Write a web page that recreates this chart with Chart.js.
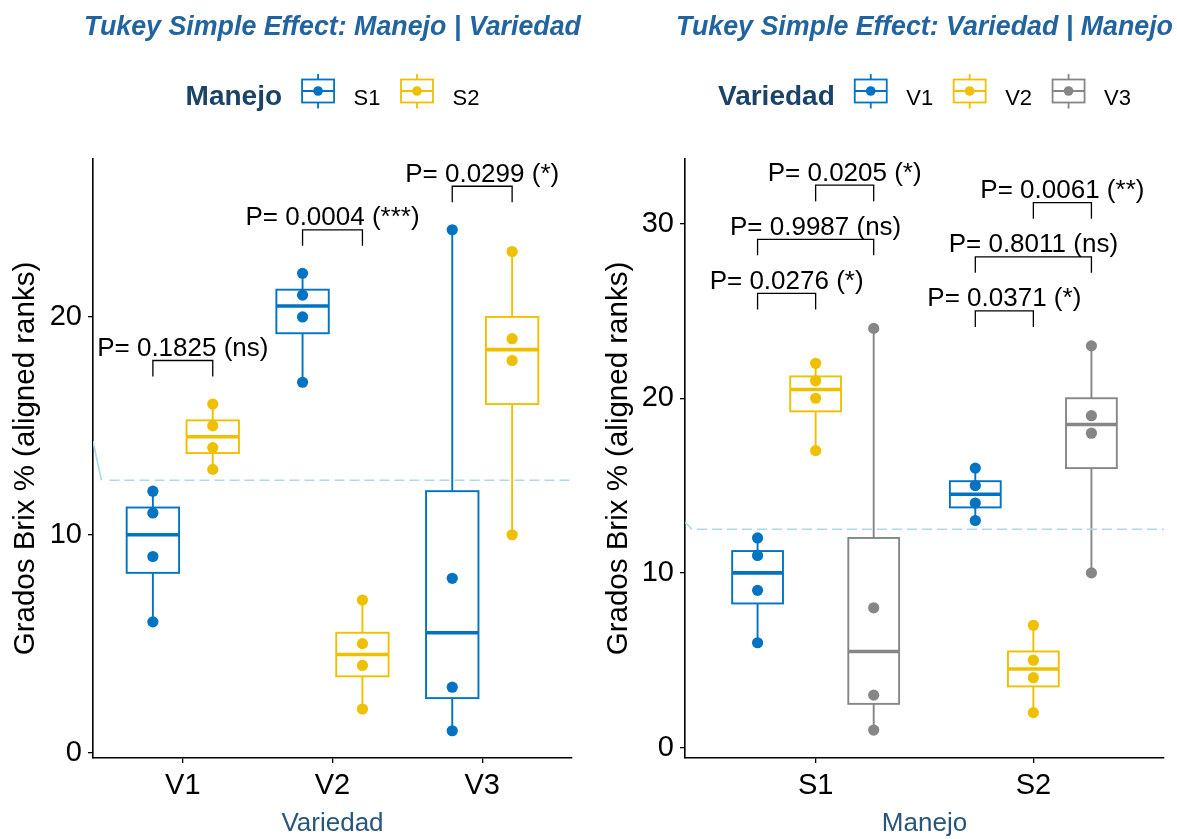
<!DOCTYPE html>
<html>
<head>
<meta charset="utf-8">
<script src="https://cdn.jsdelivr.net/npm/chart.js@4.4.1/dist/chart.umd.min.js"></script>
<style>
html,body{margin:0;padding:0;background:#ffffff;}
#wrap{position:relative;width:1177px;height:839px;overflow:hidden;background:#fff;}
#c1{position:absolute;left:0;top:0;}
#c2{position:absolute;left:590px;top:0;}
</style>
</head>
<body>
<div id="wrap">
<canvas id="c1" width="590" height="839"></canvas>
<canvas id="c2" width="587" height="839"></canvas>
</div>
<script>
// ---------------- DATA ----------------
const variedades = ['V1', 'V2', 'V3'];
const manejos = ['S1', 'S2'];
// aligned ranks per Manejo x Variedad cell
const S1_V1 = [6, 9, 11, 12];
const S1_V2 = [17, 20, 21, 22];
const S1_V3 = [1, 3, 8, 24];
const S2_V1 = [13, 14, 15, 16];
const S2_V2 = [2, 4, 5, 7];
const S2_V3 = [10, 18, 19, 23];
const meanRank = 12.5;
const yTicksLeft = [0, 10, 20];
const yTicksRight = [0, 10, 20, 30];
// Tukey simple effects: Manejo | Variedad (S1 vs S2 in each variedad)
const pManejoByVariedad = [0.1825, 0.0004, 0.0299];
const sigManejoByVariedad = ['ns', '***', '*'];
// Tukey simple effects: Variedad | Manejo
const pairsVariedad = [['V1', 'V2'], ['V1', 'V3'], ['V2', 'V3']];
const pVariedadS1 = [0.0276, 0.9987, 0.0205];
const sigVariedadS1 = ['*', 'ns', '*'];
const pVariedadS2 = [0.0371, 0.8011, 0.0061];
const sigVariedadS2 = ['*', 'ns', '**'];
// small lead-in piece of the reference line at the panel's left edge
const leadLeftX = [0.4, 0.456];
const leadLeftY = [14.3, 12.5];
const leadRightX = [0.4, 0.432];
const leadRightY = [12.9, 12.5];

// ---------------- STYLE ----------------
const FONT = '"Liberation Sans", Arial, Helvetica, sans-serif';
const colManejo = { S1: '#0073C2', S2: '#EFC000' };
const colVariedad = { V1: '#0073C2', V2: '#EFC000', V3: '#868686' };
const TITLE_COL = '#22649F';
const LEGEND_TITLE_COL = '#1B4368';
const AXIS_TITLE_COL = '#27557C';
const REF_COL = '#ADD8E6';

const cells = {
  S1: { V1: S1_V1, V2: S1_V2, V3: S1_V3 },
  S2: { V1: S2_V1, V2: S2_V2, V3: S2_V3 }
};

function quantile7(sorted, p) {
  const h = (sorted.length - 1) * p;
  const lo = Math.floor(h);
  const hi = Math.min(lo + 1, sorted.length - 1);
  return sorted[lo] + (h - lo) * (sorted[hi] - sorted[lo]);
}

function dodge(i, n) { return (i - (n - 1) / 2) * (0.8 / n); }

// groups for left panel: x = Variedad, dodge by Manejo
const leftGroups = [];
variedades.forEach((v, vi) => manejos.forEach((m, mi) => {
  leftGroups.push({ x: vi + 1 + dodge(mi, manejos.length), values: cells[m][v], color: colManejo[m] });
}));
// groups for right panel: x = Manejo, dodge by Variedad
const rightGroups = [];
manejos.forEach((m, mi) => variedades.forEach((v, vi) => {
  rightGroups.push({ x: mi + 1 + dodge(vi, variedades.length), values: cells[m][v], color: colVariedad[v] });
}));

const fmtP = (p, s) => 'P= ' + p.toFixed(4) + ' (' + s + ')';

// brackets
const BR_OFFSET = 2, BR_STEP = 3.1;
const leftBrackets = variedades.map((v, vi) => {
  const mx = Math.max(...manejos.map(m => Math.max(...cells[m][v])));
  return { x1: vi + 1 + dodge(0, 2), x2: vi + 1 + dodge(1, 2), y: mx + BR_OFFSET,
           label: fmtP(pManejoByVariedad[vi], sigManejoByVariedad[vi]) };
});
const rightBrackets = [];
manejos.forEach((m, mi) => {
  const mx = Math.max(...variedades.map(v => Math.max(...cells[m][v])));
  const ps = mi === 0 ? pVariedadS1 : pVariedadS2;
  const ss = mi === 0 ? sigVariedadS1 : sigVariedadS2;
  pairsVariedad.forEach((pr, k) => {
    const a = variedades.indexOf(pr[0]), b = variedades.indexOf(pr[1]);
    rightBrackets.push({ x1: mi + 1 + dodge(a, 3), x2: mi + 1 + dodge(b, 3),
      y: mx + BR_OFFSET + k * BR_STEP, label: fmtP(ps[k], ss[k]) });
  });
});

// ---------------- PLUGINS ----------------
const boxPlugin = {
  id: 'boxes',
  beforeDatasetsDraw(chart, args, o) {
    const { ctx } = chart; const xs = chart.scales.x, ys = chart.scales.y;
    ctx.save();
    for (const g of o.groups) {
      const s = [...g.values].sort((a, b) => a - b);
      const q1 = quantile7(s, 0.25), med = quantile7(s, 0.5), q3 = quantile7(s, 0.75);
      const iqr = q3 - q1;
      const lo = Math.min(...s.filter(v => v >= q1 - 1.5 * iqr));
      const hi = Math.max(...s.filter(v => v <= q3 + 1.5 * iqr));
      const xc = xs.getPixelForValue(g.x);
      const xl = xs.getPixelForValue(g.x - o.width / 2);
      const xr = xs.getPixelForValue(g.x + o.width / 2);
      const Y = v => ys.getPixelForValue(v);
      ctx.strokeStyle = g.color; ctx.lineWidth = 1.9; ctx.lineCap = 'butt';
      ctx.beginPath();
      ctx.moveTo(xc, Y(hi)); ctx.lineTo(xc, Y(q3));
      ctx.moveTo(xc, Y(q1)); ctx.lineTo(xc, Y(lo));
      ctx.stroke();
      ctx.fillStyle = '#ffffff';
      ctx.fillRect(xl, Y(q3), xr - xl, Y(q1) - Y(q3));
      ctx.strokeRect(xl, Y(q3), xr - xl, Y(q1) - Y(q3));
      ctx.lineWidth = 3.6;
      ctx.beginPath(); ctx.moveTo(xl, Y(med)); ctx.lineTo(xr, Y(med)); ctx.stroke();
    }
    ctx.restore();
  }
};

const bracketPlugin = {
  id: 'brackets',
  afterDatasetsDraw(chart, args, o) {
    const { ctx } = chart; const xs = chart.scales.x, ys = chart.scales.y;
    ctx.save();
    ctx.strokeStyle = '#000'; ctx.lineWidth = 1.3; ctx.fillStyle = '#000';
    ctx.font = '26px ' + FONT; ctx.textAlign = 'center'; ctx.textBaseline = 'alphabetic';
    for (const b of o.items) {
      const x1 = xs.getPixelForValue(b.x1), x2 = xs.getPixelForValue(b.x2), y = ys.getPixelForValue(b.y);
      ctx.beginPath();
      ctx.moveTo(x1, y + o.tip); ctx.lineTo(x1, y); ctx.lineTo(x2, y); ctx.lineTo(x2, y + o.tip);
      ctx.stroke();
      ctx.fillText(b.label, (x1 + x2) / 2, y - 4.5);
    }
    ctx.restore();
  }
};

// panel title + legend (centred over the plotting panel, like ggplot)
const headerPlugin = {
  id: 'header',
  afterDraw(chart, args, o) {
    const { ctx, chartArea } = chart;
    const cx = (chartArea.left + chartArea.right) / 2;
    ctx.save();
    // title
    ctx.font = 'italic bold 26.8px ' + FONT;
    ctx.fillStyle = TITLE_COL; ctx.textAlign = 'center'; ctx.textBaseline = 'alphabetic';
    ctx.fillText(o.title, cx, 35);
    // legend
    const titleFont = 'bold 28px ' + FONT, labFont = '22px ' + FONT;
    ctx.font = titleFont; const tw = ctx.measureText(o.legendTitle).width;
    ctx.font = labFont; const lws = o.labels.map(l => ctx.measureText(l).width);
    const keyW = 32, keyH = 23, gTK = 20, gKL = 19.5, gLK = 20.5;
    const total = tw + gTK + o.labels.length * (keyW + gKL) + lws.reduce((a, b) => a + b, 0) + (o.labels.length - 1) * gLK;
    let x = cx - total / 2;
    const cy = 91, base = 105;
    ctx.textAlign = 'left';
    ctx.font = titleFont; ctx.fillStyle = LEGEND_TITLE_COL;
    ctx.fillText(o.legendTitle, x, base);
    x += tw + gTK;
    o.labels.forEach((l, i) => {
      const c = o.colors[i];
      ctx.strokeStyle = c; ctx.lineWidth = 1.8;
      ctx.beginPath();
      ctx.moveTo(x + keyW / 2, cy - keyH / 2 - 5.5); ctx.lineTo(x + keyW / 2, cy - keyH / 2);
      ctx.moveTo(x + keyW / 2, cy + keyH / 2); ctx.lineTo(x + keyW / 2, cy + keyH / 2 + 6);
      ctx.moveTo(x, cy); ctx.lineTo(x + keyW, cy);
      ctx.stroke();
      ctx.strokeRect(x, cy - keyH / 2, keyW, keyH);
      ctx.fillStyle = c; ctx.beginPath(); ctx.arc(x + keyW / 2, cy, 4.8, 0, Math.PI * 2); ctx.fill();
      x += keyW + gKL;
      ctx.font = labFont; ctx.fillStyle = '#000';
      ctx.fillText(l, x, base);
      x += lws[i] + gLK;
    });
    ctx.restore();
  }
};

// ---------------- CHART BUILDER ----------------
function buildChart(canvasId, cfg) {
  const datasets = [];
  cfg.groups.forEach(g => {
    datasets.push({ type: 'scatter', data: g.values.map(v => ({ x: g.x, y: v })),
      backgroundColor: g.color, borderColor: g.color, borderWidth: 0, pointRadius: 5.6,
      pointHoverRadius: 5.6, order: 0 });
  });
  datasets.push({ type: 'line', data: [{ x: cfg.refStart, y: meanRank }, { x: cfg.xMax, y: meanRank }],
    borderColor: REF_COL, borderWidth: 1.6, borderDash: [10, 5], pointRadius: 0, fill: false, order: 1 });
  datasets.push({ type: 'line', data: cfg.leadX.map((x, i) => ({ x, y: cfg.leadY[i] })),
    borderColor: REF_COL, borderWidth: 1.6, pointRadius: 0, fill: false, order: 1 });

  return new Chart(document.getElementById(canvasId), {
    type: 'scatter',
    data: { datasets },
    options: {
      responsive: false, animation: false, devicePixelRatio: 1,
      layout: { padding: { left: 0, right: cfg.padRight, top: 159, bottom: 0 } },
      plugins: {
        legend: { display: false },
        tooltip: { enabled: false },
        title: { display: false },
        boxes: { groups: cfg.groups, width: cfg.boxWidth },
        brackets: { items: cfg.brackets, tip: 16 },
        header: { title: cfg.title, legendTitle: cfg.legendTitle, labels: cfg.legendLabels, colors: cfg.legendColors }
      },
      scales: {
        x: {
          type: 'linear', min: 0.4, max: cfg.xMax,
          afterBuildTicks: s => { s.ticks = cfg.xCats.map((c, i) => ({ value: i + 1 })); },
          afterFit: s => { s.height = 81; },
          ticks: { callback: v => cfg.xCats[Math.round(v) - 1], color: '#000',
                   font: { family: FONT, size: 29 }, padding: 6, maxRotation: 0, autoSkip: false },
          grid: { display: true, drawOnChartArea: false, drawTicks: true, tickLength: 5, color: '#000', lineWidth: 1.3 },
          border: { display: true, color: '#000', width: 1.6 },
          title: { display: true, text: cfg.xTitle, color: AXIS_TITLE_COL,
                   font: { family: FONT, size: 26 }, padding: { top: 0, bottom: 0 } }
        },
        y: {
          type: 'linear', min: cfg.yMin, max: cfg.yMax,
          afterBuildTicks: s => { s.ticks = cfg.yTicks.map(v => ({ value: v })); },
          afterFit: s => { s.width = cfg.yWidth; },
          ticks: { callback: v => String(v), color: '#000', font: { family: FONT, size: 29 }, padding: 6 },
          grid: { display: true, drawOnChartArea: false, drawTicks: true, tickLength: 5, color: '#000', lineWidth: 1.3 },
          border: { display: true, color: '#000', width: 1.6 },
          title: { display: true, text: 'Grados Brix % (aligned ranks)', color: '#000',
                   font: { family: FONT, size: 29.5 }, padding: { top: cfg.yTitlePad, bottom: 0 } }
        }
      }
    },
    plugins: [boxPlugin, bracketPlugin, headerPlugin]
  });
}

buildChart('c1', {
  title: 'Tukey Simple Effect: Manejo | Variedad',
  groups: leftGroups, boxWidth: 0.7 / manejos.length, brackets: leftBrackets,
  legendTitle: 'Manejo', legendLabels: manejos, legendColors: manejos.map(m => colManejo[m]),
  xCats: variedades, xTitle: 'Variedad', xMax: 3.6,
  yMin: -0.25, yMax: 27.25, yTicks: yTicksLeft, yWidth: 93, yTitlePad: 8.6, padRight: 18,
  refStart: 0.51, leadX: leadLeftX, leadY: leadLeftY
});

buildChart('c2', {
  title: 'Tukey Simple Effect: Variedad | Manejo',
  groups: rightGroups, boxWidth: 0.7 / variedades.length, brackets: rightBrackets,
  legendTitle: 'Variedad', legendLabels: variedades, legendColors: variedades.map(v => colVariedad[v]),
  xCats: manejos, xTitle: 'Manejo', xMax: 2.6,
  yMin: -0.6, yMax: 33.7, yTicks: yTicksRight, yWidth: 95, yTitlePad: 11.6, padRight: 13,
  refStart: 0.455, leadX: leadRightX, leadY: leadRightY
});
</script>
</body>
</html>
